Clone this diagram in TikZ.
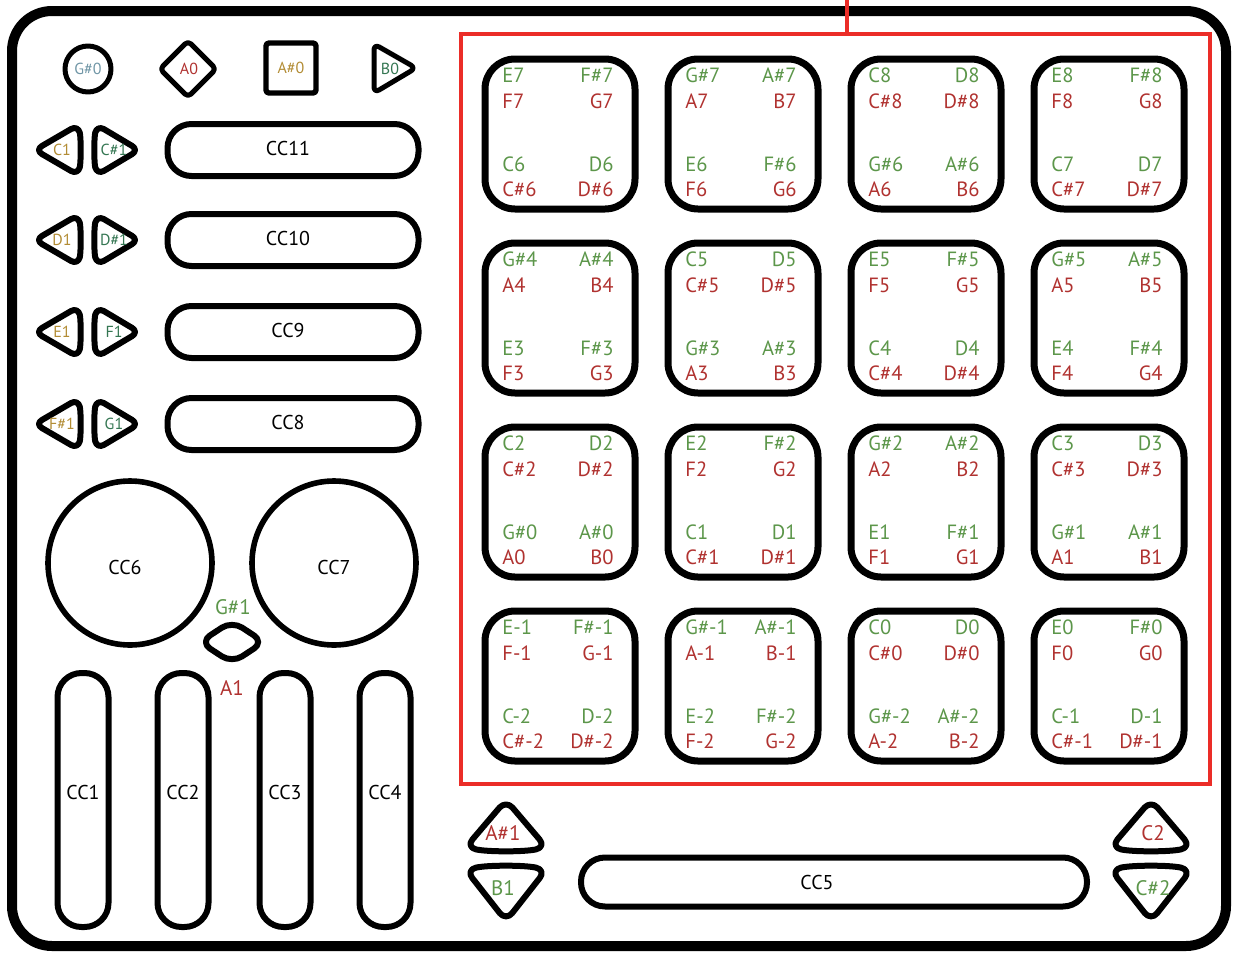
\documentclass[tikz,border=0pt]{standalone}
\usepackage{fontspec}
\setmainfont{PT Sans}
\definecolor{padgreen}{RGB}{92,150,74}
\definecolor{padred}{RGB}{176,50,48}
\definecolor{keygold}{RGB}{178,140,52}
\definecolor{keygreen}{RGB}{52,118,82}
\definecolor{keyblue}{RGB}{112,150,166}
\definecolor{gridred}{RGB}{235,45,40}
\begin{document}
\begin{tikzpicture}[x=0.5pt,y=-0.5pt,
  ctrl/.style={draw,line width=3pt,line join=round},
  pad/.style={draw,line width=3.5pt,rounded corners=15pt,minimum size=75pt,inner sep=0pt},
  hslider/.style={ctrl,rounded corners=12pt,minimum width=125.5pt,minimum height=26pt,inner sep=0pt},
  vslider/.style={ctrl,rounded corners=12pt,minimum width=25.5pt,minimum height=127pt,inner sep=0pt},
  knob/.style={ctrl,line width=2.8pt,circle,minimum size=82pt,inner sep=0pt},
  cctext/.style={font=\fontsize{10}{12}\selectfont,inner sep=0pt},
  padtext/.style={font=\fontsize{10.3}{12}\selectfont,inner sep=0pt},
  keytext/.style={font=\fontsize{8}{9}\selectfont,inner sep=0pt},
  notetext/.style={font=\fontsize{10.5}{12}\selectfont,inner sep=0pt}]
  \useasboundingbox (0,0) rectangle (1233,954);
  % housing and pad area
  \draw[line width=5pt,rounded corners=20pt] (12,11) rectangle (1226,946);
  \draw[gridred,line width=2pt] (461,34) rectangle (1210,784);
  \coordinate (cabletop) at (847,0);
  \coordinate (cableend) at (847,34);
  \draw[gridred,line width=2pt] (cabletop) -- (cableend);

  % top row of keys
  \node[ctrl,line width=2.5pt,circle,minimum size=23pt,keytext,text=keyblue] (gs0) at (88,69) {G\#0};
  \draw[ctrl,line width=2.5pt,rounded corners=2pt] (188,41) -- (216,69) -- (188,97) -- (160,69) -- cycle;
  \node[keytext,text=padred] (a0) at (189,69) {A0};
  \node[ctrl,line width=2.7pt,rounded corners=1.5pt,minimum size=25pt,keytext,text=keygold] (as0) at (291,68) {A\#0};
  \draw[ctrl,line width=2.5pt,rounded corners=3pt] (374,44) -- (416,68) -- (374,93) -- cycle;
  \node[keytext,text=keygreen] (b0) at (390,69) {B0};

  % key pairs and horizontal sliders
  \foreach \y/\cc/\lk/\rk/\n in {150/CC11/C1/C\#1/11, 240/CC10/D1/D\#1/10, 332/CC9/E1/F1/9, 424/CC8/F\#1/G1/8}{
    \draw[ctrl,rounded corners=4pt] (35,\y) -- (78,\y-25) .. controls (81,\y-12) and (81,\y+12) .. (78,\y+25) -- cycle;
    \draw[ctrl,rounded corners=4pt] (139,\y) -- (97,\y-25) .. controls (94,\y-12) and (94,\y+12) .. (97,\y+25) -- cycle;
    \node[keytext,text=keygold] (lkey\n) at (62,\y) {\lk};
    \node[keytext,text=keygreen] (rkey\n) at (114,\y) {\rk};
    \node[hslider] (slider\n) at (293,\y) {};
    \node[cctext] (cc\n) at (288,\y-2) {\cc};
  }

  % knobs
  \node[knob] (knob6) at (130,563) {};
  \node[knob] (knob7) at (334,563) {};
  \node[cctext] (cc6) at (125,567) {CC6};
  \node[cctext] (cc7) at (334,567) {CC7};
  \draw[ctrl,rounded corners=6pt] (232,621) -- (264,642) -- (232,663) -- (200,642) -- cycle;
  \node[notetext,text=padgreen] (gs1) at (233,607) {G\#1};
  \node[notetext,text=padred] (a1) at (232,688) {A1};

  % vertical sliders
  \foreach \x/\n in {83/1,183/2,285/3,385/4}{
    \node[vslider] (slider\n) at (\x,800) {};
    \node[cctext] (cc\n) at (\x,792) {CC\n};
  }

  % bottom strip
  \node[hslider,minimum width=253pt,minimum height=24.5pt] (slider5) at (834,882) {};
  \node[cctext] (cc5) at (817,882) {CC5};
  \foreach \x/\lx/\up/\dn/\m in {506/503/A\#1/B1/l, 1151/1153/C2/C\#2/r}{
    \draw[ctrl,rounded corners=5pt] (\x,800) -- (\x+40,847) .. controls (\x+19,852) and (\x-19,852) .. (\x-40,847) -- cycle;
    \draw[ctrl,rounded corners=5pt] (\x,921) -- (\x-40,870) .. controls (\x-19,865) and (\x+19,865) .. (\x+40,870) -- cycle;
    \node[notetext,text=padred] (up\m) at (\lx,833) {\up};
    \node[notetext,text=padgreen] (dn\m) at (\lx,888) {\dn};
  }

  % pads
  \foreach \c/\r/\ga/\gb/\ra/\rb/\gc/\gd/\rc/\rd in {
    0/0/E7/F\#7/F7/G7/C6/D6/C\#6/D\#6,
    1/0/G\#7/A\#7/A7/B7/E6/F\#6/F6/G6,
    2/0/C8/D8/C\#8/D\#8/G\#6/A\#6/A6/B6,
    3/0/E8/F\#8/F8/G8/C7/D7/C\#7/D\#7,
    0/1/G\#4/A\#4/A4/B4/E3/F\#3/F3/G3,
    1/1/C5/D5/C\#5/D\#5/G\#3/A\#3/A3/B3,
    2/1/E5/F\#5/F5/G5/C4/D4/C\#4/D\#4,
    3/1/G\#5/A\#5/A5/B5/E4/F\#4/F4/G4,
    0/2/C2/D2/C\#2/D\#2/G\#0/A\#0/A0/B0,
    1/2/E2/F\#2/F2/G2/C1/D1/C\#1/D\#1,
    2/2/G\#2/A\#2/A2/B2/E1/F\#1/F1/G1,
    3/2/C3/D3/C\#3/D\#3/G\#1/A\#1/A1/B1,
    0/3/E-1/F\#-1/F-1/G-1/C-2/D-2/C\#-2/D\#-2,
    1/3/G\#-1/A\#-1/A-1/B-1/E-2/F\#-2/F-2/G-2,
    2/3/C0/D0/C\#0/D\#0/G\#-2/A\#-2/A-2/B-2,
    3/3/E0/F\#0/F0/G0/C-1/D-1/C\#-1/D\#-1}{
    \node[pad] (pad\r\c) at ({560+183*\c},{134+184*\r}) {};
    \node[padtext,text=padgreen,anchor=base west] (pad\r\c-1) at ([shift={(-58,-51.5)}]pad\r\c.center) {\ga};
    \node[padtext,text=padgreen,anchor=base east] (pad\r\c-2) at ([shift={(54,-51.5)}]pad\r\c.center) {\gb};
    \node[padtext,text=padred,anchor=base west] (pad\r\c-3) at ([shift={(-58,-25.5)}]pad\r\c.center) {\ra};
    \node[padtext,text=padred,anchor=base east] (pad\r\c-4) at ([shift={(54,-25.5)}]pad\r\c.center) {\rb};
    \node[padtext,text=padgreen,anchor=base west] (pad\r\c-5) at ([shift={(-58,37.5)}]pad\r\c.center) {\gc};
    \node[padtext,text=padgreen,anchor=base east] (pad\r\c-6) at ([shift={(54,37.5)}]pad\r\c.center) {\gd};
    \node[padtext,text=padred,anchor=base west] (pad\r\c-7) at ([shift={(-58,62.5)}]pad\r\c.center) {\rc};
    \node[padtext,text=padred,anchor=base east] (pad\r\c-8) at ([shift={(54,62.5)}]pad\r\c.center) {\rd};
  }
\end{tikzpicture}
\end{document}
